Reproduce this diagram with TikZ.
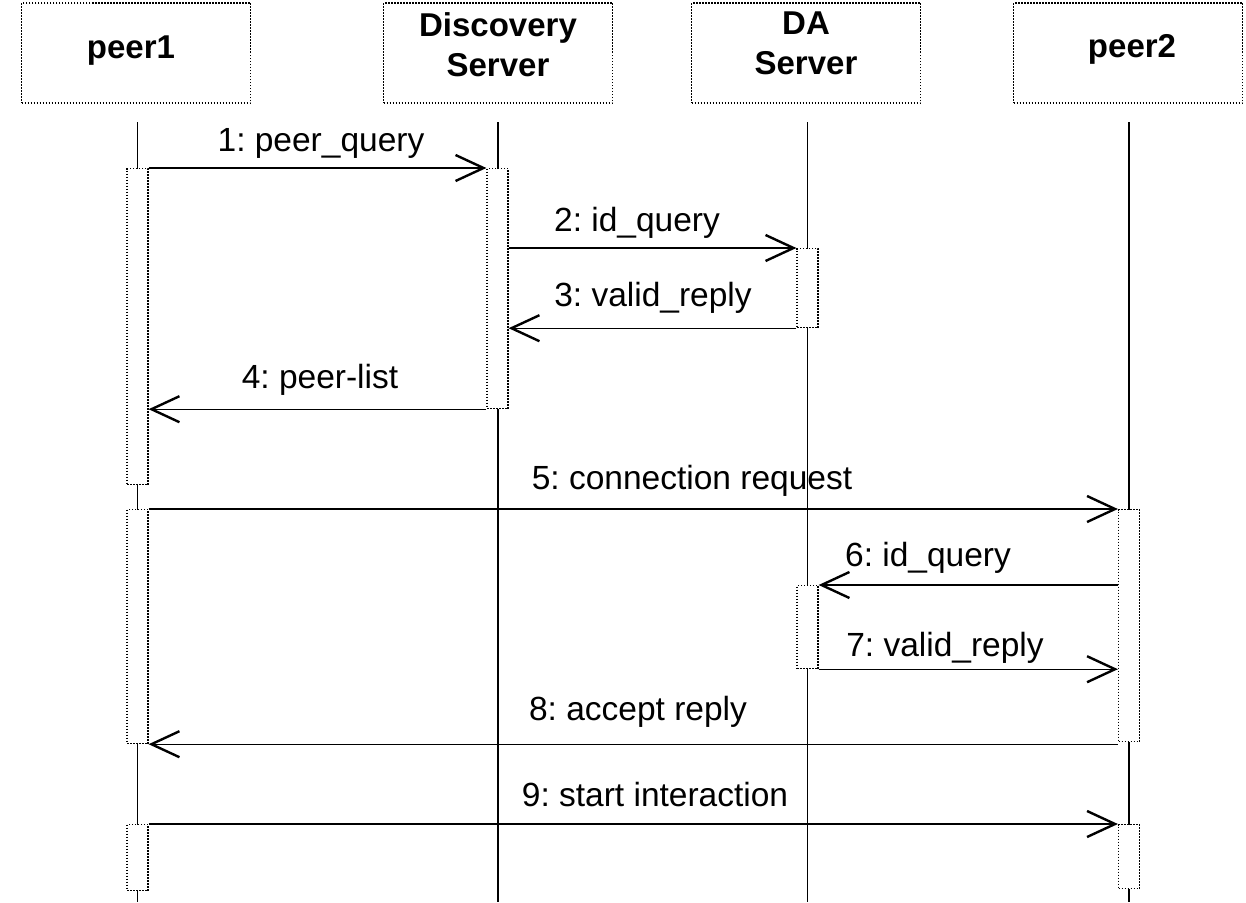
\documentclass[tikz,border=0pt]{standalone}
\usepackage{fontspec}
\setmainfont{Liberation Sans}
\usetikzlibrary{arrows.meta}
\frenchspacing
\begin{document}
\begin{tikzpicture}[x=1pt,y=-1pt,
  hdr/.style={draw, dash pattern=on 1.5pt off 1.5pt, line width=1.3pt, minimum width=229pt, minimum height=100pt, inner sep=0},
  hdrtxt/.style={font=\fontsize{33}{40}\selectfont\bfseries, align=center, inner sep=0},
  life/.style={line width=1.2pt},
  bar/.style={draw, dash pattern=on 1.5pt off 1.5pt, line width=1.2pt, fill=white, minimum width=21pt, inner sep=0, anchor=north},
  msg/.style={line width=1.1pt, -{Straight Barb[length=28pt,width=26pt,line width=2.4pt]}},
  lbl/.style={font=\fontsize{33.5}{38}\selectfont, inner sep=0}]
\useasboundingbox (0,0) rectangle (1246,902);
% headers
\node[hdr] (h1) at (136,53) {};
\node[hdr] (h2) at (498,53) {};
\node[hdr] (h3) at (806,53) {};
\node[hdr] (h4) at (1128,53) {};
\node[hdrtxt] (t1) at (131,51) {peer1};
\node[hdrtxt] (t2) at (498,45) {Discovery\\Server};
\node[hdrtxt] (t3) at (806,43) {DA\\Server};
\node[hdrtxt] (t4) at (1132,49) {peer2};
% lifeline ends
\coordinate (l1t) at (137.5,122); \coordinate (l1b) at (137.5,902);
\coordinate (l2t) at (498,122);   \coordinate (l2b) at (498,902);
\coordinate (l3t) at (807.5,122); \coordinate (l3b) at (807.5,902);
\coordinate (l4t) at (1129,122);  \coordinate (l4b) at (1129,902);
\draw[life] (l1t) -- (l1b);
\draw[life] (l2t) -- (l2b);
\draw[life] (l3t) -- (l3b);
\draw[life] (l4t) -- (l4b);
% activation bars
\node[bar, minimum height=316pt] (p1a) at (137.5,168) {};
\node[bar, minimum height=234pt] (p1b) at (137.5,509) {};
\node[bar, minimum height=66pt]  (p1c) at (137.5,824) {};
\node[bar, minimum height=240pt] (dsa) at (497.5,168) {};
\node[bar, minimum height=79pt]  (daa) at (807.5,248) {};
\node[bar, minimum height=83pt]  (dab) at (807.5,585) {};
\node[bar, minimum height=232pt] (p2a) at (1129,509) {};
\node[bar, minimum height=64pt]  (p2b) at (1129,824) {};
% messages
\draw[msg] (p1a.north east) -- (dsa.north west);
\draw[msg] (dsa.east |- daa.north) -- (daa.north west);
\draw[msg] (daa.south west) -- (dsa.east |- daa.south);
\draw[msg] (dsa.south west) -- (p1a.east |- dsa.south);
\draw[msg] (p1b.north east) -- (p2a.north west);
\draw[msg] (p2a.west |- dab.north) -- (dab.north east);
\draw[msg] (dab.south east) -- (p2a.west |- dab.south);
\draw[msg] (p2a.west |- p1b.south) -- (p1b.south east);
\draw[msg] (p1c.north east) -- (p2b.north west);
% labels
\node[lbl] (m1) at (321,143) {1: peer\_query};
\node[lbl] (m2) at (637,223) {2: id\_query};
\node[lbl] (m3) at (653,298) {3: valid\_reply};
\node[lbl] (m4) at (320,380) {4: peer-list};
\node[lbl] (m5) at (692,481) {5: connection request};
\node[lbl] (m6) at (928,558) {6: id\_query};
\node[lbl] (m7) at (945,648) {7: valid\_reply};
\node[lbl] (m8) at (638,712) {8: accept reply};
\node[lbl] (m9) at (655,795) {9: start interaction};
\end{tikzpicture}
\end{document}
